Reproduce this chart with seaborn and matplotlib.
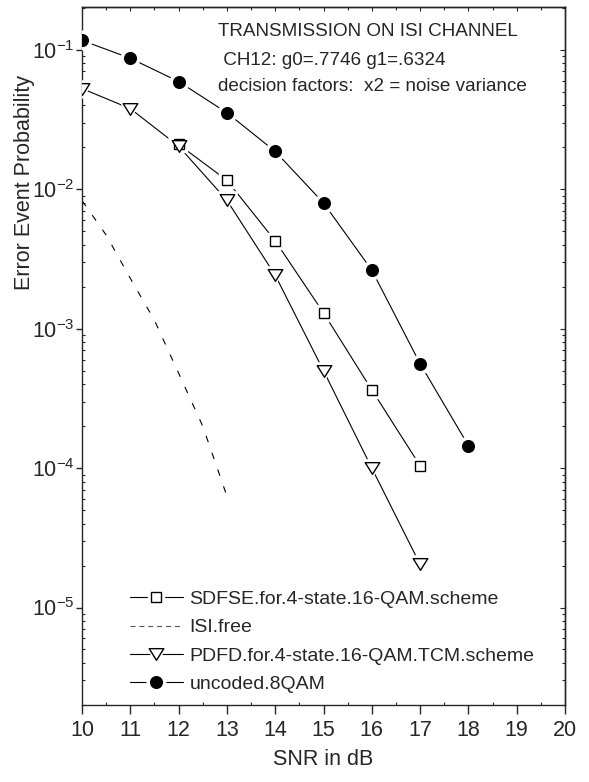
import numpy as np
import pandas as pd
import matplotlib
matplotlib.use("Agg")
import matplotlib.pyplot as plt
import seaborn as sns
from matplotlib.lines import Line2D
from matplotlib.path import Path
from matplotlib.legend_handler import HandlerBase
from matplotlib.ticker import LogLocator, MultipleLocator, NullFormatter

# ---- data -------------------------------------------------------------
snr_sdfse = [12, 13, 14, 15, 16, 17]
pe_sdfse = [2.10e-2, 1.16e-2, 4.27e-3, 1.30e-3, 3.64e-4, 1.04e-4]

snr_isi = [10, 10.5, 11, 11.5, 12, 12.5, 13]
pe_isi = [8.3e-3, 4.7e-3, 2.3e-3, 1.15e-3, 4.8e-4, 2.0e-4, 6.3e-5]

snr_pdfd = [10, 11, 12, 13, 14, 15, 16, 17]
pe_pdfd = [5.28e-2, 3.79e-2, 2.04e-2, 8.34e-3, 2.42e-3, 5.0e-4, 1.0e-4, 2.04e-5]

snr_unc = [10, 11, 12, 13, 14, 15, 16, 17, 18]
pe_unc = [0.117, 0.0871, 0.0593, 0.0354, 0.0187, 7.98e-3, 2.63e-3, 5.61e-4, 1.45e-4]

labels = ["SDFSE.for.4-state.16-QAM.scheme", "ISI.free",
          "PDFD.for.4-state.16-QAM.TCM.scheme", "uncoded.8QAM"]
x_ticks = list(range(10, 21))
title_lines = ["TRANSMISSION ON ISI CHANNEL",
               " CH12: g0=.7746 g1=.6324",
               "decision factors:  x2 = noise variance"]

# ---- style ------------------------------------------------------------
sns.set_style("ticks")
plt.rcParams["font.family"] = ["Liberation Sans", "DejaVu Sans"]
plt.rcParams["mathtext.fontset"] = "custom"
plt.rcParams["mathtext.rm"] = "Liberation Sans"
plt.rcParams["mathtext.it"] = "Liberation Sans:italic"
plt.rcParams["axes.linewidth"] = 1.0

TICK_FS = 15.5
TEXT_FS = 13.6
LEG_FS = 14
LW = 0.8
HALO = 5


class MarkerEntry:
    """Legend entry: a solid line broken by a marker with a white gap."""
    def __init__(self, marker, ms, fc):
        self.marker, self.ms, self.fc = marker, ms, fc


class MarkerEntryHandler(HandlerBase):
    def create_artists(self, legend, h, xdescent, ydescent, width, height,
                       fontsize, trans):
        y = 0.5 * height - ydescent
        x0, x1 = -xdescent, -xdescent + width
        xc = 0.5 * (x0 + x1)
        line = Line2D([x0, x1], [y, y], color="black", lw=LW, transform=trans)
        halo = Line2D([xc], [y], ls="none", marker=h.marker, ms=h.ms + HALO,
                      mfc="white", mec="white", transform=trans)
        mk = Line2D([xc], [y], ls="none", marker=h.marker, ms=h.ms,
                    mfc=h.fc, mec="black", mew=1.0, transform=trans)
        return [line, halo, mk]


fig = plt.figure(figsize=(5.89, 7.82), dpi=100)
ax = fig.add_axes([0.1392, 0.0985, 0.8201, 0.8925])

# downward triangle, wider than tall
tri = Path([(-1, 0.8), (1, 0.8), (0, -0.8), (-1, 0.8)],
           [Path.MOVETO, Path.LINETO, Path.LINETO, Path.CLOSEPOLY])

series = [
    (snr_sdfse, pe_sdfse, "-", "s", 6.6, "white"),
    (snr_isi, pe_isi, "--", None, 0, None),
    (snr_pdfd, pe_pdfd, "-", tri, 10.5, "white"),
    (snr_unc, pe_unc, "-", "o", 8.4, "black"),
]

handles = []
for xs, ys, ls, mk, ms, fc in series:
    df = pd.DataFrame({"snr": xs, "pe": ys})
    sns.lineplot(data=df, x="snr", y="pe", ax=ax, color="black", lw=LW,
                 legend=False, zorder=2)
    if ls == "--":
        ax.lines[-1].set_dashes((6, 10))
        h = Line2D([], [], color="#555555", lw=LW)
        h.set_dashes((4.5, 3.5))
        handles.append(h)
        continue
    # white halo leaves a small gap between line and marker
    ax.plot(xs, ys, ls="none", marker=mk, ms=ms + HALO, mfc="white",
            mec="white", zorder=3)
    ax.plot(xs, ys, ls="none", marker=mk, ms=ms, mfc=fc, mec="black",
            mew=1.0, zorder=4)
    handles.append(MarkerEntry(mk, ms, fc))

ax.set_yscale("log")
ax.set_xlim(10, 20)
ax.set_ylim(2.0e-6, 0.203)

ax.set_xticks(x_ticks)
ax.set_xticklabels([str(t) for t in x_ticks])
ax.xaxis.set_minor_locator(MultipleLocator(0.5))
ax.yaxis.set_major_locator(LogLocator(base=10, numticks=20))
ax.yaxis.set_minor_locator(LogLocator(base=10, subs=np.arange(2, 10), numticks=20))
ax.yaxis.set_minor_formatter(NullFormatter())

ax.tick_params(axis="x", which="major", direction="out", length=6.5, width=1.0,
               labelsize=TICK_FS, pad=4)
ax.tick_params(axis="x", which="minor", direction="in", length=2.2, width=0.8)
ax.tick_params(axis="y", which="major", direction="out", length=4.3, width=1.0,
               labelsize=TICK_FS, pad=1)
ax.tick_params(axis="y", which="minor", direction="in", length=2.0, width=0.8)

# inward ticks on the top and right frame
top = ax.secondary_xaxis("top")
top.set_xticks(x_ticks)
top.xaxis.set_minor_locator(MultipleLocator(0.5))
top.tick_params(which="major", direction="in", length=3, width=0.8, labeltop=False)
top.tick_params(which="minor", direction="in", length=2, width=0.8)
right = ax.secondary_yaxis("right")
right.yaxis.set_major_locator(LogLocator(base=10, numticks=20))
right.yaxis.set_minor_locator(LogLocator(base=10, subs=np.arange(2, 10), numticks=20))
right.yaxis.set_minor_formatter(NullFormatter())
right.tick_params(which="major", direction="in", length=3.5, width=0.8, labelright=False)
right.tick_params(which="minor", direction="in", length=2, width=0.8)

for s in ax.spines.values():
    s.set_visible(True)
    s.set_linewidth(1.0)

ax.set_xlabel("SNR in dB", fontsize=TICK_FS, labelpad=6)
ax.set_ylabel("Error Event Probability", fontsize=TICK_FS)
ax.yaxis.set_label_coords(-0.097, 0.749)

for (tx, ty), line in zip([(0.2816, 0.9656), (0.2816, 0.924), (0.2816, 0.8868)],
                          title_lines):
    ax.text(tx, ty, line, transform=ax.transAxes, fontsize=TEXT_FS,
            ha="left", va="center")

ax.legend(handles, labels, loc="lower left", bbox_to_anchor=(0.0995, 0.017),
          frameon=False, fontsize=LEG_FS, handlelength=2.7, handletextpad=0.35,
          labelspacing=0.55, borderpad=0, borderaxespad=0,
          handler_map={MarkerEntry: MarkerEntryHandler()})

fig.savefig("out.png", dpi=100)
